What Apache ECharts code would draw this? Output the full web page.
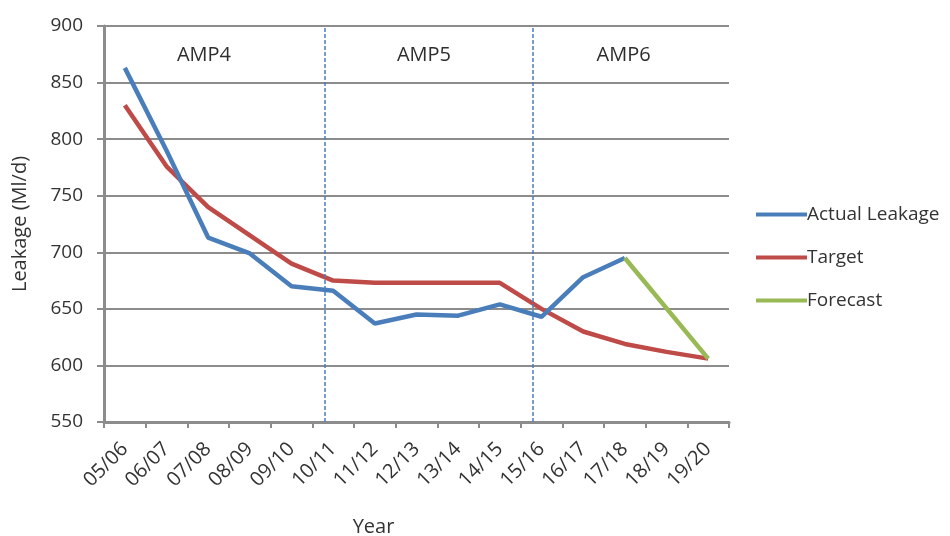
<!DOCTYPE html>
<html>
<head>
<meta charset="utf-8">
<script src="https://cdn.jsdelivr.net/npm/echarts@6/dist/echarts.min.js"></script>
<style>
  html, body { margin: 0; padding: 0; background: #fff; }
  #chart { width: 950px; height: 536px; }
</style>
</head>
<body>
<div id="chart"></div>
<script>
// Leakage performance by regulatory year (Ml/d)
const years = ['05/06', '06/07', '07/08', '08/09', '09/10', '10/11', '11/12', '12/13',
               '13/14', '14/15', '15/16', '16/17', '17/18', '18/19', '19/20'];
const actualLeakage = [863, 790, 713, 699, 670, 666, 637, 645, 644, 654, 643, 678, 695, null, null];
const target = [830, 776, 740, 715, 690, 675, 673, 673, 673, 673, 650, 630, 619, 612, 606];
const forecast = [null, null, null, null, null, null, null, null, null, null, null, null, 695, null, 606];
const yTicks = { min: 550, max: 900, step: 50 };

// AMP period boundaries and labels, in category-band units along the year axis
const ampBoundaries = [5.3, 10.3];
const ampLabels = ['AMP4', 'AMP5', 'AMP6'];
const ampLabelPos = [2.4, 7.68, 12.47];
const ampLabelLevel = 874;

const FONT = '"Open Sans", "Noto Sans", sans-serif';
const TEXT = '#333333';
const GRID = '#8c8c8c';

const chart = echarts.init(document.getElementById('chart'));

chart.setOption({
  animation: false,
  backgroundColor: '#fff',
  textStyle: { fontFamily: FONT },
  grid: {
    left: 104, right: 221, top: 26, bottom: 114,
    containLabel: false,
    outerBoundsMode: 'none'
  },
  legend: {
    orient: 'vertical',
    left: 751,
    top: 200,
    itemWidth: 51,
    itemHeight: 4,
    itemGap: 24,
    icon: 'rect',
    textStyle: { fontSize: 19, color: TEXT, fontFamily: FONT, padding: [0, 0, 0, -5] },
    data: ['Actual Leakage', 'Target', 'Forecast']
  },
  xAxis: [
    {
      type: 'category',
      data: years,
      boundaryGap: true,
      name: 'Year',
      nameLocation: 'middle',
      nameGap: 95,
      nameTextStyle: { fontSize: 20, color: TEXT, fontFamily: FONT, padding: [0, 86, 0, 0] },
      axisLine: { lineStyle: { color: GRID, width: 3 } },
      axisTick: { show: true, length: 6, alignWithLabel: false, lineStyle: { color: GRID, width: 2 } },
      axisLabel: { rotate: 45, fontSize: 20, color: TEXT, margin: 24, fontFamily: FONT },
      splitLine: { show: false }
    },
    {
      type: 'value',
      min: 0,
      max: years.length,
      show: false
    }
  ],
  yAxis: {
    type: 'value',
    min: yTicks.min,
    max: yTicks.max,
    interval: yTicks.step,
    name: 'Leakage (Ml/d)',
    nameLocation: 'middle',
    nameGap: 74,
    nameRotate: 90,
    nameTextStyle: { fontSize: 20, color: TEXT, fontFamily: FONT },
    axisLine: { show: true, lineStyle: { color: GRID, width: 3 } },
    axisTick: { show: true, length: 7, lineStyle: { color: GRID, width: 2 } },
    axisLabel: { fontSize: 19, color: TEXT, margin: 21, fontFamily: FONT },
    splitLine: { lineStyle: { color: GRID, width: 2 } }
  },
  series: [
    {
      name: 'Actual Leakage',
      type: 'line',
      data: actualLeakage,
      symbol: 'none',
      color: '#4a7ebb',
      lineStyle: { width: 4.5, color: '#4a7ebb' },
      z: 4
    },
    {
      name: 'Target',
      type: 'line',
      data: target,
      symbol: 'none',
      color: '#be4b48',
      lineStyle: { width: 4.5, color: '#be4b48' },
      z: 3
    },
    {
      name: 'Forecast',
      type: 'line',
      data: forecast,
      connectNulls: true,
      symbol: 'none',
      color: '#98b954',
      lineStyle: { width: 4.5, color: '#98b954' },
      z: 5
    },
    {
      // AMP period dividers and period names
      type: 'scatter',
      xAxisIndex: 1,
      symbolSize: 0,
      silent: true,
      itemStyle: { opacity: 1 },
      data: ampLabels.map((name, i) => ({ value: [ampLabelPos[i], ampLabelLevel], name })),
      label: {
        show: true,
        position: 'inside',
        formatter: p => p.name,
        fontSize: 20,
        color: '#2e2e2e',
        opacity: 1,
        fontFamily: FONT
      },
      emphasis: { disabled: true },
      markLine: {
        silent: true,
        symbol: 'none',
        label: { show: false },
        lineStyle: { color: '#4a7ebb', type: [4, 2], width: 1.5, opacity: 1 },
        data: ampBoundaries.map(x => ({ xAxis: x }))
      },
      z: 2
    }
  ]
});
</script>
</body>
</html>
